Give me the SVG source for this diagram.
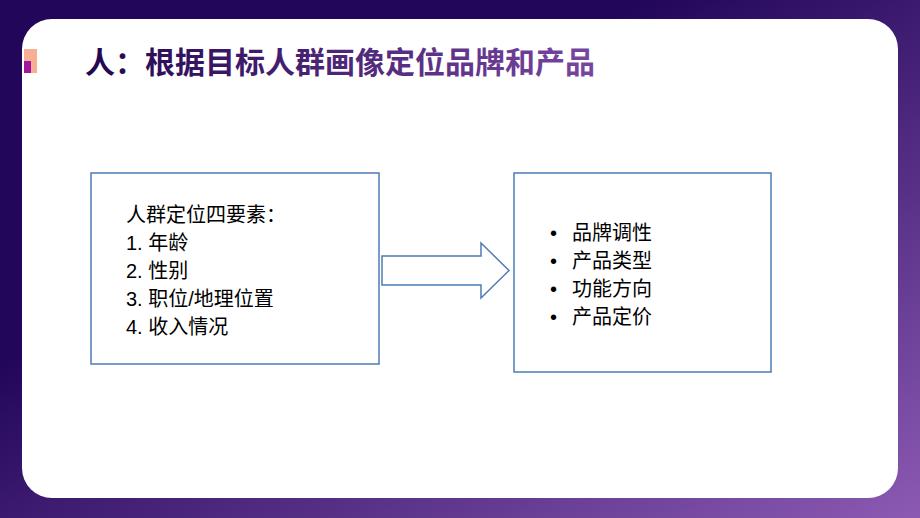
<svg xmlns="http://www.w3.org/2000/svg" width="920" height="518" viewBox="0 0 920 518">
<defs>
<linearGradient id="bg" x1="0" y1="0" x2="1" y2="1"><stop offset="0.35" stop-color="#22065a"/><stop offset="1" stop-color="#8c5ab2"/></linearGradient>
<linearGradient id="tg" x1="85" y1="0" x2="672" y2="0" gradientUnits="userSpaceOnUse"><stop offset="0" stop-color="#22064f"/><stop offset="1" stop-color="#8550ad"/></linearGradient>
<style>
.box{fill:#fff;stroke:#4f7bb2;stroke-width:1.5}
.t{font-family:"Liberation Sans","Noto Sans CJK SC",sans-serif;font-size:20px;fill:#000}
</style>
</defs>
<rect width="920" height="518" fill="url(#bg)"/>
<rect x="22" y="19" width="876" height="479" rx="30" fill="#fff"/>
<rect x="24" y="49" width="13" height="24" fill="#f7ae92"/>
<rect x="24" y="61" width="7" height="12" fill="#a0169e"/>
<text x="85" y="73" font-family="'Noto Sans CJK SC',sans-serif" font-weight="bold" font-size="30" fill="url(#tg)">人：根据目标人群画像定位品牌和产品</text>
<g id="left"><rect class="box" x="91" y="173" width="288" height="191"/>
<text class="t"><tspan x="126" y="222">人群定位四要素：</tspan><tspan x="126" y="250">1. 年龄</tspan><tspan x="126" y="278">2. 性别</tspan><tspan x="126" y="306">3. 职位/地理位置</tspan><tspan x="126" y="334">4. 收入情况</tspan></text></g>
<g id="right"><rect class="box" x="514" y="173" width="257" height="199"/>
<text class="t"><tspan x="550" y="240">•</tspan><tspan x="572" y="240">品牌调性</tspan><tspan x="550" y="268">•</tspan><tspan x="572" y="268">产品类型</tspan><tspan x="550" y="296">•</tspan><tspan x="572" y="296">功能方向</tspan><tspan x="550" y="324">•</tspan><tspan x="572" y="324">产品定价</tspan></text></g>
<g id="connectors"><path class="box" d="M382 256H481V243L509 270.5L481 298V285H382Z"/></g>
</svg>
